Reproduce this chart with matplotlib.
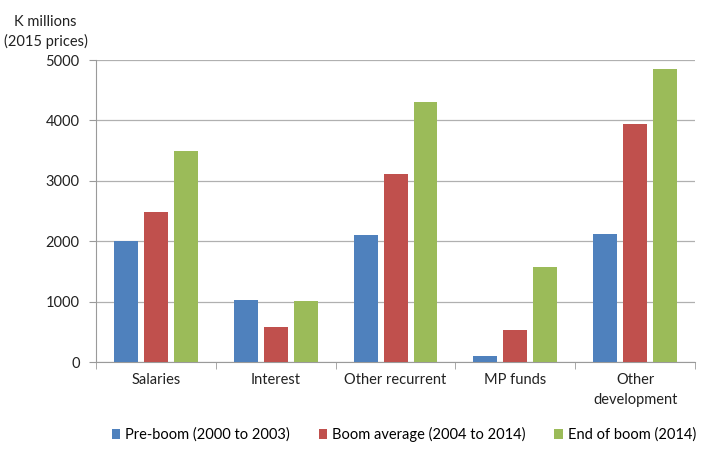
import numpy as np
import matplotlib.pyplot as plt

plt.rcParams['font.family'] = ['Lato', 'DejaVu Sans']

categories = ["Salaries", "Interest", "Other recurrent", "MP funds", "Other\ndevelopment"]
series_names = ["Pre-boom (2000 to 2003)", "Boom average (2004 to 2014)", "End of boom (2014)"]
pre_boom = [2010, 1025, 2100, 100, 2120]
boom_avg = [2480, 580, 3110, 530, 3940]
end_boom = [3490, 1010, 4300, 1570, 4850]
colors = ["#4F81BD", "#C0504D", "#9BBB59"]

fig = plt.figure(figsize=(7.02, 4.55), dpi=100)
ax = fig.add_axes([0.137, 0.204, 0.853, 0.664])

x = np.arange(len(categories))
for i, (vals, name) in enumerate(zip([pre_boom, boom_avg, end_boom], series_names)):
    ax.bar(x + (i - 1) * 0.25, vals, width=0.2, color=colors[i], label=name, zorder=3)

ax.set_xlim(-0.5, len(categories) - 0.5)
ax.set_ylim(0, 5000)
ax.set_yticks(range(0, 5001, 1000))
ax.yaxis.grid(True, color="#B0B0B0", linewidth=0.9, zorder=0)

for s in ["top", "right"]:
    ax.spines[s].set_visible(False)
for s in ["left", "bottom"]:
    ax.spines[s].set_color("#9A9A9A")

ax.set_xticks(x)
ax.set_xticklabels(categories, fontsize=10.5, color="#222222", linespacing=1.5)
ax.tick_params(axis="x", length=0, pad=8)
ax.set_xticks(np.arange(-0.5, len(categories), 1), minor=True)
ax.tick_params(axis="x", which="minor", length=5, color="#9A9A9A", direction="out")
ax.tick_params(axis="y", length=5, color="#9A9A9A", labelsize=10.5, labelcolor="#222222", pad=7)

fig.text(0.065, 0.93, "K millions\n(2015 prices)", ha="center", va="center",
         fontsize=10.5, color="#222222", linespacing=1.4)

fig.legend(loc="center", bbox_to_anchor=(0.575, 0.045), ncol=3, frameon=False,
           fontsize=10.5, handlelength=0.6, handleheight=0.6, handletextpad=0.3,
           columnspacing=2.0)

fig.savefig("out.png", dpi=100)
